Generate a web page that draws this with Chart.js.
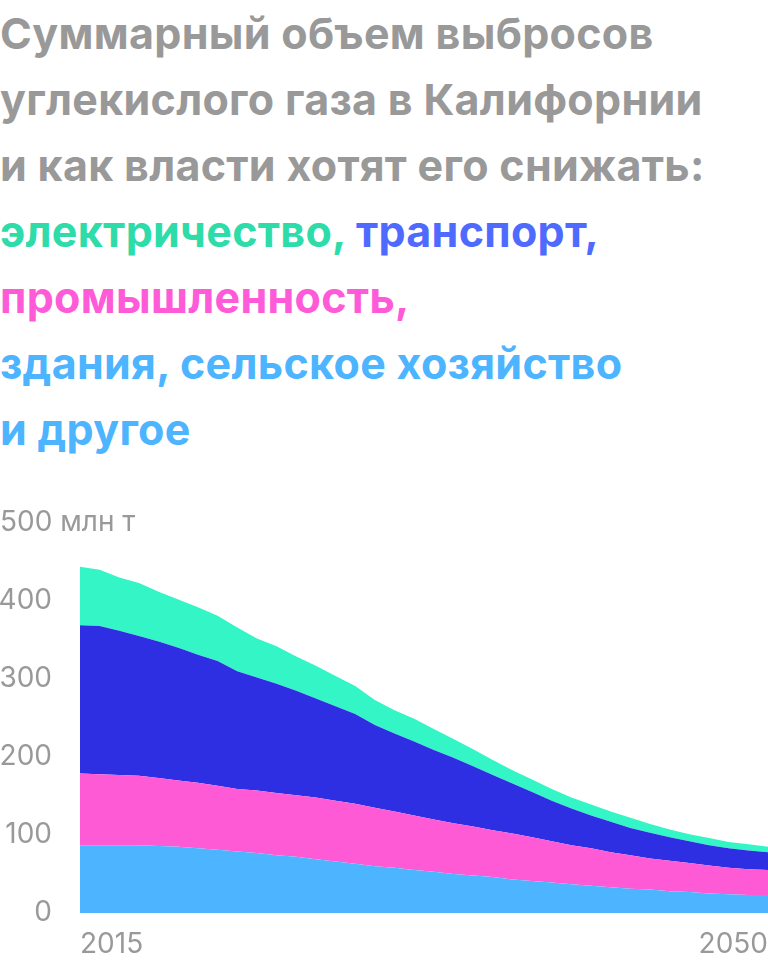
<!DOCTYPE html>
<html lang="ru">
<head>
<meta charset="utf-8">
<script src="https://cdn.jsdelivr.net/npm/chart.js@4.4.1/dist/chart.umd.min.js"></script>
<style>
    html, body { margin: 0; padding: 0; background: #fff; }
    body { width: 768px; height: 969px; position: relative; overflow: hidden; }
    #title {
        position: absolute; left: 0; top: 0;
        font-family: Inter, sans-serif; font-weight: 700;
        font-size: 43px; line-height: 66px; letter-spacing: 0.3px; color: #999;
        white-space: nowrap;
    }
    #chart-box { position: absolute; left: 0; top: 490px; width: 768px; height: 479px; }
</style>
</head>
<body>
<div id="title">
    Суммарный объем выбросов<br>
    углекислого газа в Калифорнии<br>
    и как власти хотят его снижать:<br>
    <span style="color:#2edcaa">электричество,</span> <span style="color:#4f6bff">транспорт,</span><br>
    <span style="color:#ff5ad8">промышленность,</span><br>
    <span style="color:#4db4ff">здания, сельское хозяйство<br>и другое</span>
</div>
<div id="chart-box"><canvas id="emissionsChart"></canvas></div>
<script>
// Years 2015..2050
const years = [];
for (let y = 2015; y <= 2050; y++) years.push(String(y));

// Million tonnes CO2
const buildings = [87, 87, 87, 87, 86, 85, 83, 81, 79, 77, 74, 72, 69, 66, 63, 60, 58, 55,
    53, 50, 48, 46, 43, 41, 39, 37, 35, 33, 31, 30, 28, 27, 25, 24, 23, 23];
const industry = [92, 91, 90, 89, 87, 85, 84, 82, 80, 80, 80, 79, 79, 78, 77, 75, 72, 70,
    67, 65, 63, 60, 59, 56, 53, 50, 48, 45, 43, 40, 39, 37, 36, 34, 33, 32];
const transport = [190, 190, 185, 179, 175, 170, 164, 160, 151, 145, 140, 134, 127, 121, 115, 106, 100, 95,
    89, 84, 77, 71, 64, 58, 52, 47, 42, 39, 35, 33, 30, 28, 26, 25, 24, 23];
const electricity = [75, 72, 68, 68, 64, 62, 61, 58, 56, 50, 48, 44, 42, 39, 36, 32, 30, 29,
    27, 24, 22, 19, 17, 16, 15, 14, 14, 13, 13, 11, 10, 9, 9, 8, 8, 7];

const yTicks = [0, 100, 200, 300, 400, 500];
const unitLabel = '500 млн т';

const tickColor = '#999';
const tickFont = { family: 'Inter', size: 28, weight: '400' };

function area(label, data, color, fill) {
    return {
        label: label,
        data: data,
        backgroundColor: color,
        borderWidth: 0,
        pointRadius: 0,
        tension: 0,
        fill: fill
    };
}

// Draw the top tick with its unit, left aligned
const unitPlugin = {
    id: 'unitLabel',
    afterDraw(chart) {
        const ctx = chart.ctx;
        const y = chart.scales.y.getPixelForValue(500);
        ctx.save();
        ctx.font = '400 28px Inter';
        ctx.fillStyle = tickColor;
        ctx.textAlign = 'left';
        ctx.textBaseline = 'middle';
        ctx.fillText(unitLabel, 0, y);
        ctx.restore();
    }
};

// no extra room for tick labels at the ends of the axes
function noPadding(scale) {
    scale.paddingLeft = 0;
    scale.paddingRight = 0;
    scale.paddingTop = 0;
    scale.paddingBottom = 0;
}

const ctx = document.getElementById('emissionsChart').getContext('2d');
new Chart(ctx, {
    type: 'line',
    data: {
        labels: years,
        datasets: [
            area('здания, сельское хозяйство и другое', buildings, '#4db4ff', 'origin'),
            area('промышленность', industry, '#ff5ad5', '-1'),
            area('транспорт', transport, '#2e2ee2', '-1'),
            area('электричество', electricity, '#33f5c5', '-1')
        ]
    },
    options: {
        responsive: true,
        maintainAspectRatio: false,
        animation: false,
        layout: { padding: { top: 33, left: 0, right: 0, bottom: 0 } },
        plugins: {
            legend: { display: false },
            tooltip: { enabled: false }
        },
        scales: {
            x: {
                grid: { display: false, drawTicks: false },
                border: { display: false },
                afterFit: scale => { scale.height = 56; noPadding(scale); },
                ticks: {
                    autoSkip: false,
                    maxRotation: 0,
                    align: 'inner',
                    padding: 15,
                    color: tickColor,
                    font: tickFont,
                    callback: (value, index) => (index === 0 || index === years.length - 1) ? years[index] : ''
                }
            },
            y: {
                stacked: true,
                min: 0,
                max: 500,
                grid: { display: false, drawTicks: false },
                border: { display: false },
                afterFit: scale => { scale.width = 80; noPadding(scale); },
                afterBuildTicks: scale => { scale.ticks = yTicks.map(v => ({ value: v })); },
                ticks: {
                    padding: 28,
                    color: tickColor,
                    font: tickFont,
                    callback: value => value === 500 ? '' : String(value)
                }
            }
        }
    },
    plugins: [unitPlugin]
});
</script>
</body>
</html>
